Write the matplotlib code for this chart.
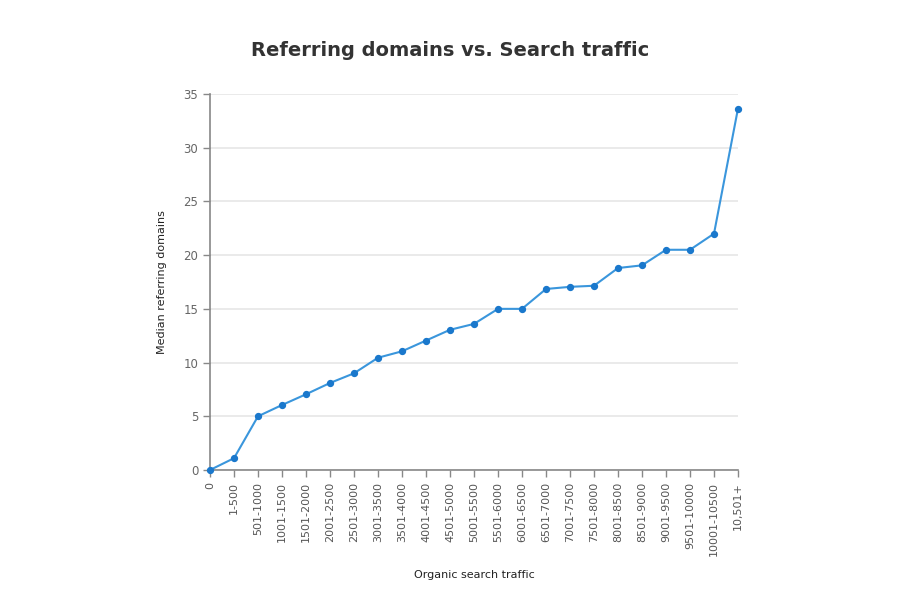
import matplotlib
matplotlib.use("Agg")
import matplotlib.pyplot as plt

categories = ["0", "1-500", "501-1000", "1001-1500", "1501-2000", "2001-2500",
              "2501-3000", "3001-3500", "3501-4000", "4001-4500", "4501-5000",
              "5001-5500", "5501-6000", "6001-6500", "6501-7000", "7001-7500",
              "7501-8000", "8001-8500", "8501-9000", "9001-9500", "9501-10000",
              "10001-10500", "10,501+"]
values = [0, 1.1, 5.0, 6.05, 7.05, 8.1, 9.0, 10.45, 11.05, 12.05, 13.05, 13.6,
          15.0, 15.0, 16.85, 17.05, 17.15, 18.8, 19.05, 20.5, 20.5, 22.0, 33.65]
yticks = [0, 5, 10, 15, 20, 25, 30, 35]

plt.rcParams['font.family'] = ['DejaVu Sans']
fig = plt.figure(figsize=(9, 6), dpi=100)
ax = fig.add_axes([210/900, 1-470/600, 528/900, 376/600])

x = list(range(len(categories)))
ax.plot(x, values, color="#3a96dc", linewidth=1.5, zorder=3, clip_on=False)
ax.scatter(x, values, color="#1a78cc", s=18, zorder=4, clip_on=False)

ax.set_xlim(0, len(categories) - 1)
ax.set_ylim(0, 35)
ax.set_yticks(yticks)
ax.set_xticks(x)
ax.set_xticklabels(categories, rotation=90, fontsize=8, color="#555555")
ax.tick_params(axis='y', labelsize=8.5, labelcolor="#666666", color="#888888",
               length=5, width=1)
ax.tick_params(axis='x', color="#888888", length=5, width=1)

for s in ["top", "right"]:
    ax.spines[s].set_visible(False)
for s in ["left", "bottom"]:
    ax.spines[s].set_color("#888888")
    ax.spines[s].set_linewidth(1.2)

ax.yaxis.grid(True, color="#e6e6e6", linewidth=1.2)
ax.set_axisbelow(True)

ax.set_ylabel("Median referring domains", fontsize=8, color="#222222", labelpad=12)
ax.set_xlabel("Organic search traffic", fontsize=8, color="#222222", labelpad=10)

fig.text(450/900, 1-50/600, "Referring domains vs. Search traffic",
         ha="center", va="center", fontsize=14, fontweight="bold", color="#333333")

fig.savefig("out.png", dpi=100, facecolor="white")
